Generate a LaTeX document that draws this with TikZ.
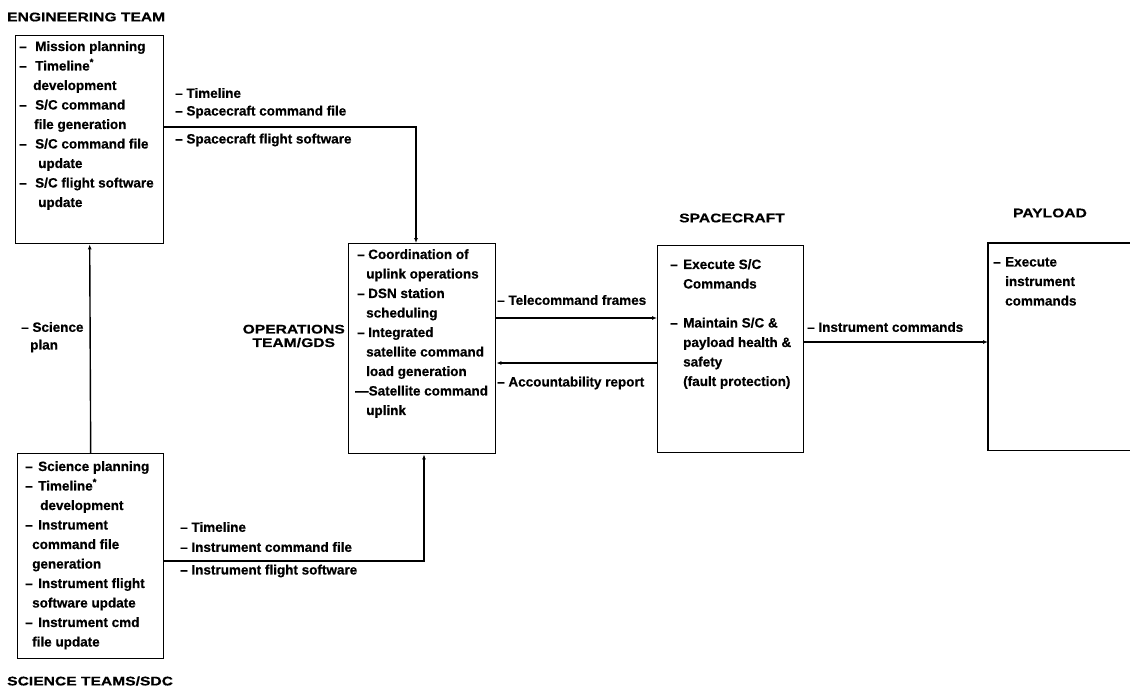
\documentclass[tikz,border=0pt]{standalone}
\usepackage{fontspec}
\setmainfont{Liberation Sans}
\newfontfamily\bodyf[FakeBold=0.5]{Liberation Sans Bold}
\newfontfamily\headf[FakeStretch=1.25,FakeBold=0.6]{Liberation Sans Bold}
\usetikzlibrary{arrows.meta,calc}
\newcommand{\dd}[1][15pt]{\makebox[#1][l]{–}}
\begin{document}
\begin{tikzpicture}[x=1pt,y=-1pt,
  box/.style={draw,line width=1.4pt,inner sep=0pt,anchor=north west},
  body/.style={font=\bodyf\fontsize{13.5}{19.5}\selectfont,inner sep=0pt,anchor=north west,align=left},
  lbl/.style={font=\bodyf\fontsize{13.5}{16}\selectfont,inner sep=0pt,anchor=west},
  head/.style={font=\headf\fontsize{12.5}{13.5}\selectfont,inner sep=0pt},
  conn/.style={line width=1.4pt},
  arr/.style={conn,-{Latex[length=5pt,width=4pt]}}]
\useasboundingbox (0,0) rectangle (1130,694);

% boxes
\node[box,minimum width=148pt,minimum height=208pt] (eng) at (15,35) {};
\node[box,minimum width=146pt,minimum height=205pt] (sci) at (17,453) {};
\node[box,minimum width=147pt,minimum height=210pt] (ops) at (348,243) {};
\node[box,minimum width=146pt,minimum height=207pt] (sc) at (657,245) {};
\node[inner sep=0pt,anchor=north west,minimum width=142pt,minimum height=207pt] (pay) at (988,243) {};
\draw[conn] (pay.north east) -- (pay.north west) -- (pay.south west) -- (pay.south east);

% box texts
\node[body] (engt) at (19,41) {\dd[16pt]Mission planning\\
\dd[16pt]Timeline\textsuperscript{*}\\
\hspace*{14pt}development\\
\dd[16pt]S/C command\\
\hspace*{15pt}file generation\\
\dd[16pt]S/C command file\\
\hspace*{19pt}update\\
\dd[16pt]S/C flight software\\
\hspace*{19pt}update};

\node[body] (scit) at (25,461) {\dd[13pt]Science planning\\
\dd[13pt]Timeline\textsuperscript{*}\\
\hspace*{15pt}development\\
\dd[13pt]Instrument\\
\hspace*{7pt}command file\\
\hspace*{7pt}generation\\
\dd[13pt]Instrument flight\\
\hspace*{7pt}software update\\
\dd[13pt]Instrument cmd\\
\hspace*{7pt}file update};

\node[body] (opst) at (357,249) {\dd[11pt]Coordination of\\
\hspace*{9pt}uplink operations\\
\dd[11pt]DSN station\\
\hspace*{9pt}scheduling\\
\dd[11pt]Integrated\\
\hspace*{9pt}satellite command\\
\hspace*{9pt}load generation\\
\hspace*{-2pt}—Satellite command\\
\hspace*{9pt}uplink};

\node[body] (sct) at (670,259) {\dd[13pt]Execute S/C\\
\hspace*{13pt}Commands\\[19.5pt]
\dd[13pt]Maintain S/C \&\\
\hspace*{13pt}payload health \&\\
\hspace*{13pt}safety\\
\hspace*{13pt}(fault protection)};

\node[body] (payt) at (993,257) {\dd[12pt]Execute\\
\hspace*{12pt}instrument\\
\hspace*{12pt}commands};

% headings
\node[head,anchor=west] (engh) at (7,17) {ENGINEERING TEAM};
\node[head,anchor=west] (scih) at (7,681) {SCIENCE TEAMS/SDC};
\node[head,anchor=east,align=center] (opsh) at (345,336) {OPERATIONS\\TEAM/GDS};
\node[head] (sch) at (732,218) {SPACECRAFT};
\node[head] (payh) at (1050,213) {PAYLOAD};

% connectors
\coordinate (j1) at (416,127);
\draw[arr] (eng.east |- j1) -- (j1) -- (ops.north -| j1);
\draw[arr] (sci.north) -- (eng.south);
\coordinate (j2) at (424,561);
\draw[arr] (sci.east |- j2) -- (j2) -- (ops.south -| j2);
\coordinate (j3) at (0,318);
\draw[arr] (ops.east |- j3) -- (sc.west |- j3);
\coordinate (j4) at (0,363);
\draw[arr] (sc.west |- j4) -- (ops.east |- j4);
\coordinate (j5) at (0,342);
\draw[arr] (sc.east |- j5) -- (pay.west |- j5);

% connector labels
\node[lbl] (l1) at (175,93) {– Timeline};
\node[lbl] (l2) at (175,112) {– Spacecraft command file};
\node[lbl] (l3) at (175,140) {– Spacecraft flight software};
\node[lbl] (l4) at (180,527) {– Timeline};
\node[lbl] (l5) at (180,547) {– Instrument command file};
\node[lbl] (l6) at (180,571) {– Instrument flight software};
\node[lbl] (l7) at (497,300) {– Telecommand frames};
\node[lbl] (l8) at (497,383) {– Accountability report};
\node[lbl] (l9) at (807,327) {– Instrument commands};
\node[lbl] (l10) at (21,327) {– Science};
\node[lbl] (l11) at (30,346) {plan};
\end{tikzpicture}
\end{document}
